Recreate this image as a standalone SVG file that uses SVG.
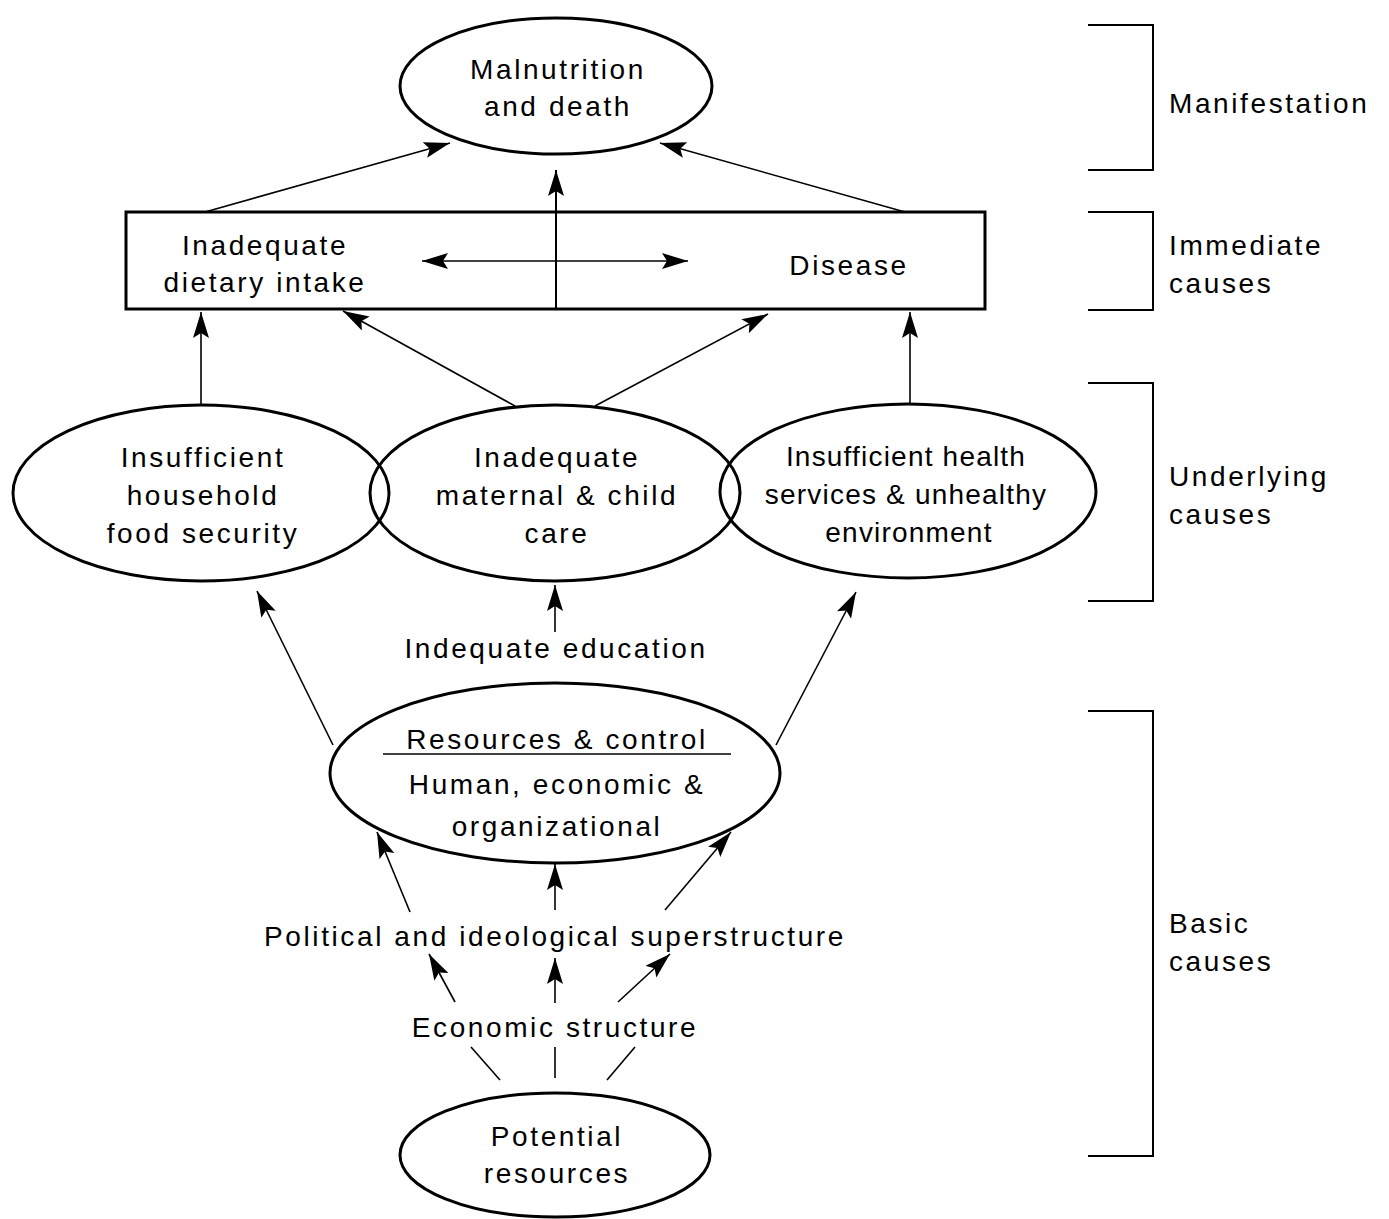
<svg xmlns="http://www.w3.org/2000/svg" width="1389" height="1219" viewBox="0 0 1389 1219">
<style>
.n{fill:#fff;stroke:#000;stroke-width:3}
.t{font-family:"Liberation Sans",Arial,sans-serif;font-size:28px;letter-spacing:2.6px;fill:#000;text-anchor:middle}
.tn{letter-spacing:1.2px}
.l{font-family:"Liberation Sans",Arial,sans-serif;font-size:28px;letter-spacing:2.6px;fill:#000}
.c{fill:none;stroke:#000;stroke-width:1.6}
.b{fill:none;stroke:#000;stroke-width:2}
</style>
<defs>
<marker id="ah" markerUnits="userSpaceOnUse" markerWidth="28" markerHeight="18" refX="26" refY="8" orient="auto">
<path d="M0,0 L26,8 L0,16 L5,8 Z" fill="#000"/>
</marker>
<marker id="as" markerUnits="userSpaceOnUse" markerWidth="28" markerHeight="18" refX="0" refY="8" orient="auto">
<path d="M26,0 L0,8 L26,16 L21,8 Z" fill="#000"/>
</marker>
</defs>
<rect width="1389" height="1219" fill="#fff"/>

<g id="connectors">
<line class="c" x1="205" y1="212" x2="450" y2="143" marker-end="url(#ah)"/>
<line class="c" x1="905" y1="212" x2="660" y2="143" marker-end="url(#ah)"/>
<line class="b" x1="556" y1="309" x2="556" y2="170" marker-end="url(#ah)"/>
<line class="c" x1="422" y1="261" x2="688" y2="261" marker-start="url(#as)" marker-end="url(#ah)"/>
<line class="c" x1="201" y1="405" x2="201" y2="312" marker-end="url(#ah)"/>
<line class="c" x1="515" y1="406" x2="343" y2="311" marker-end="url(#ah)"/>
<line class="c" x1="595" y1="406" x2="768" y2="314" marker-end="url(#ah)"/>
<line class="c" x1="910" y1="405" x2="910" y2="312" marker-end="url(#ah)"/>
<line class="c" x1="555" y1="632" x2="555" y2="585" marker-end="url(#ah)"/>
<line class="c" x1="333" y1="745" x2="257" y2="591" marker-end="url(#ah)"/>
<line class="c" x1="776" y1="745" x2="856" y2="592" marker-end="url(#ah)"/>
<line class="c" x1="410" y1="912" x2="377" y2="832" marker-end="url(#ah)"/>
<line class="c" x1="555" y1="910" x2="555" y2="864" marker-end="url(#ah)"/>
<line class="c" x1="665" y1="910" x2="731" y2="832" marker-end="url(#ah)"/>
<line class="c" x1="455" y1="1002" x2="429" y2="954" marker-end="url(#ah)"/>
<line class="c" x1="555" y1="1003" x2="555" y2="958" marker-end="url(#ah)"/>
<line class="c" x1="618" y1="1002" x2="670" y2="954" marker-end="url(#ah)"/>
<line class="c" x1="500" y1="1080" x2="471" y2="1047"/>
<line class="c" x1="555" y1="1078" x2="555" y2="1047"/>
<line class="c" x1="607" y1="1080" x2="635" y2="1047"/>
</g>

<g id="malnutrition">
<ellipse class="n" cx="556" cy="86" rx="156" ry="68"/>
<text class="t" x="558" y="79">Malnutrition</text>
<text class="t" x="558" y="116">and death</text>
</g>

<g id="immediate-box">
<rect x="126" y="212" width="859" height="97" fill="none" stroke="#000" stroke-width="3"/>
<text class="t" x="265" y="255">Inadequate</text>
<text class="t" x="265" y="292">dietary intake</text>
<text class="t" x="849" y="275">Disease</text>
</g>

<g id="food-security">
<ellipse cx="201" cy="493" rx="188" ry="88" fill="none" stroke="#000" stroke-width="3"/>
<text class="t" x="203" y="467">Insufficient</text>
<text class="t" x="203" y="505">household</text>
<text class="t" x="203" y="543">food security</text>
</g>

<g id="care">
<ellipse cx="555" cy="493" rx="185" ry="88" fill="none" stroke="#000" stroke-width="3"/>
<text class="t" x="557" y="467">Inadequate</text>
<text class="t" x="557" y="505">maternal &amp; child</text>
<text class="t" x="557" y="543">care</text>
</g>

<g id="health">
<ellipse cx="908" cy="491" rx="188" ry="87" fill="none" stroke="#000" stroke-width="3"/>
<text class="t tn" x="906" y="466">Insufficient health</text>
<text class="t tn" x="906" y="504">services &amp; unhealthy</text>
<text class="t tn" x="909" y="542">environment</text>
</g>

<g id="education">
<text class="t" x="556" y="658">Indequate education</text>
</g>

<g id="resources">
<ellipse class="n" cx="555" cy="773" rx="225" ry="90"/>
<text class="t" x="557" y="749">Resources &amp; control</text>
<line x1="383" y1="754" x2="731" y2="754" stroke="#000" stroke-width="1.5"/>
<text class="t" x="557" y="794">Human, economic &amp;</text>
<text class="t" x="557" y="836">organizational</text>
</g>

<g id="political">
<text class="t" x="555" y="946">Political and ideological superstructure</text>
</g>

<g id="economic">
<text class="t" x="555" y="1037">Economic structure</text>
</g>

<g id="potential">
<ellipse class="n" cx="555" cy="1155" rx="155" ry="62"/>
<text class="t" x="557" y="1146">Potential</text>
<text class="t" x="557" y="1183">resources</text>
</g>

<g id="brackets">
<polyline class="b" points="1088,25 1153,25 1153,170 1088,170"/>
<text class="l" x="1169" y="113">Manifestation</text>
<polyline class="b" points="1088,212 1153,212 1153,310 1088,310"/>
<text class="l" x="1169" y="255">Immediate</text>
<text class="l" x="1169" y="293">causes</text>
<polyline class="b" points="1088,383 1153,383 1153,601 1088,601"/>
<text class="l" x="1169" y="486">Underlying</text>
<text class="l" x="1169" y="524">causes</text>
<polyline class="b" points="1088,711 1153,711 1153,1156 1088,1156"/>
<text class="l" x="1169" y="933">Basic</text>
<text class="l" x="1169" y="971">causes</text>
</g>
</svg>
